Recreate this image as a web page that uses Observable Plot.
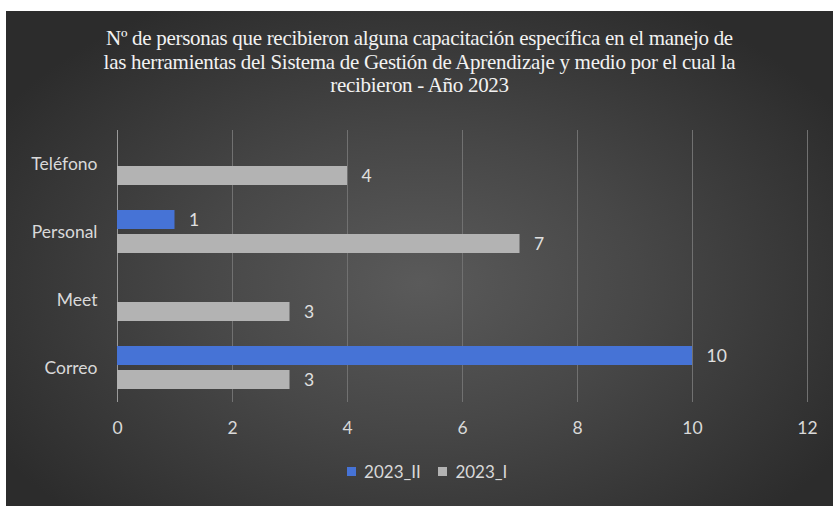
<!DOCTYPE html>
<html>
<head>
<meta charset="utf-8">
<script src="https://cdn.jsdelivr.net/npm/d3@7"></script>
<script src="https://cdn.jsdelivr.net/npm/@observablehq/plot@0.6"></script>
<style>
  html, body { margin: 0; padding: 0; background: #ffffff; }
  #card {
    position: absolute; left: 6px; top: 11px; width: 827px; height: 495px;
    background: radial-gradient(ellipse 60% 65% at 50% 55%, #5a5a5a 0%, #474747 45%, #2c2c2c 100%);
    overflow: hidden;
  }
  #title {
    position: absolute; left: 0; top: 16px; width: 827px; text-align: center;
    font-family: "Liberation Serif", "Times New Roman", serif; font-size: 21px; line-height: 23.5px;
    color: #f2f2f2; letter-spacing: -0.3px;
  }
  #chart { position: absolute; left: 0; top: 97px; }
  #legend { position: absolute; left: 16px; top: 444px; width: 827px; display: flex; justify-content: center; }
</style>
</head>
<body>
<div id="card">
  <div id="title"></div>
  <div id="chart"></div>
  <div id="legend"></div>
</div>
<script>
const titleLines = [
  "Nº de personas que recibieron alguna capacitación específica en el manejo de",
  "las herramientas del Sistema de Gestión de Aprendizaje y medio por el cual la",
  "recibieron - Año 2023"
];
const categories = ["Teléfono", "Personal", "Meet", "Correo"];
const series = ["2023_II", "2023_I"];
const values2023_II = [null, 1, null, 10];
const values2023_I = [4, 7, 3, 3];
const seriesColors = ["#4673d6", "#b3b3b3"];
const xTicks = [0, 2, 4, 6, 8, 10, 12];

document.getElementById("title").innerHTML = titleLines.join("<br>");

const data = [];
categories.forEach((c, i) => {
  if (values2023_II[i] != null) data.push({category: c, series: "2023_II", value: values2023_II[i]});
  if (values2023_I[i] != null) data.push({category: c, series: "2023_I", value: values2023_I[i]});
});

const font = "Lato, 'Open Sans', sans-serif";

const chart = Plot.plot({
  width: 827,
  height: 335,
  marginLeft: 111,
  marginRight: 26,
  marginTop: 20,
  marginBottom: 40,
  style: {background: "transparent", color: "#d9d9d9", fontFamily: font, fontSize: "17.5px"},
  x: {domain: [0, 12], ticks: xTicks, tickSize: 0, tickPadding: 19, label: null},
  y: {domain: series, axis: null, paddingInner: 0.2, paddingOuter: 0.474},
  fy: {domain: categories, padding: 0, axis: "left", tickSize: 0, tickPadding: 20, label: null},
  color: {domain: series, range: seriesColors},
  marks: [
    Plot.ruleX(xTicks, {stroke: d => d === 0 ? "#9a9a9a" : "#717171", strokeWidth: 1}),
    Plot.barX(data, {x: "value", y: "series", fy: "category", fill: "series"}),
    Plot.text(data, {x: "value", y: "series", fy: "category", text: d => String(d.value),
      textAnchor: "start", dx: 14, fill: "#e0e0e0", fontSize: 17.5})
  ]
});
document.getElementById("chart").appendChild(chart);

const legend = Plot.legend({
  color: {domain: series, range: seriesColors},
  swatchSize: 9,
  style: {color: "#d9d9d9", fontFamily: font, fontSize: "17px", background: "transparent"}
});
document.getElementById("legend").appendChild(legend);
</script>
</body>
</html>
